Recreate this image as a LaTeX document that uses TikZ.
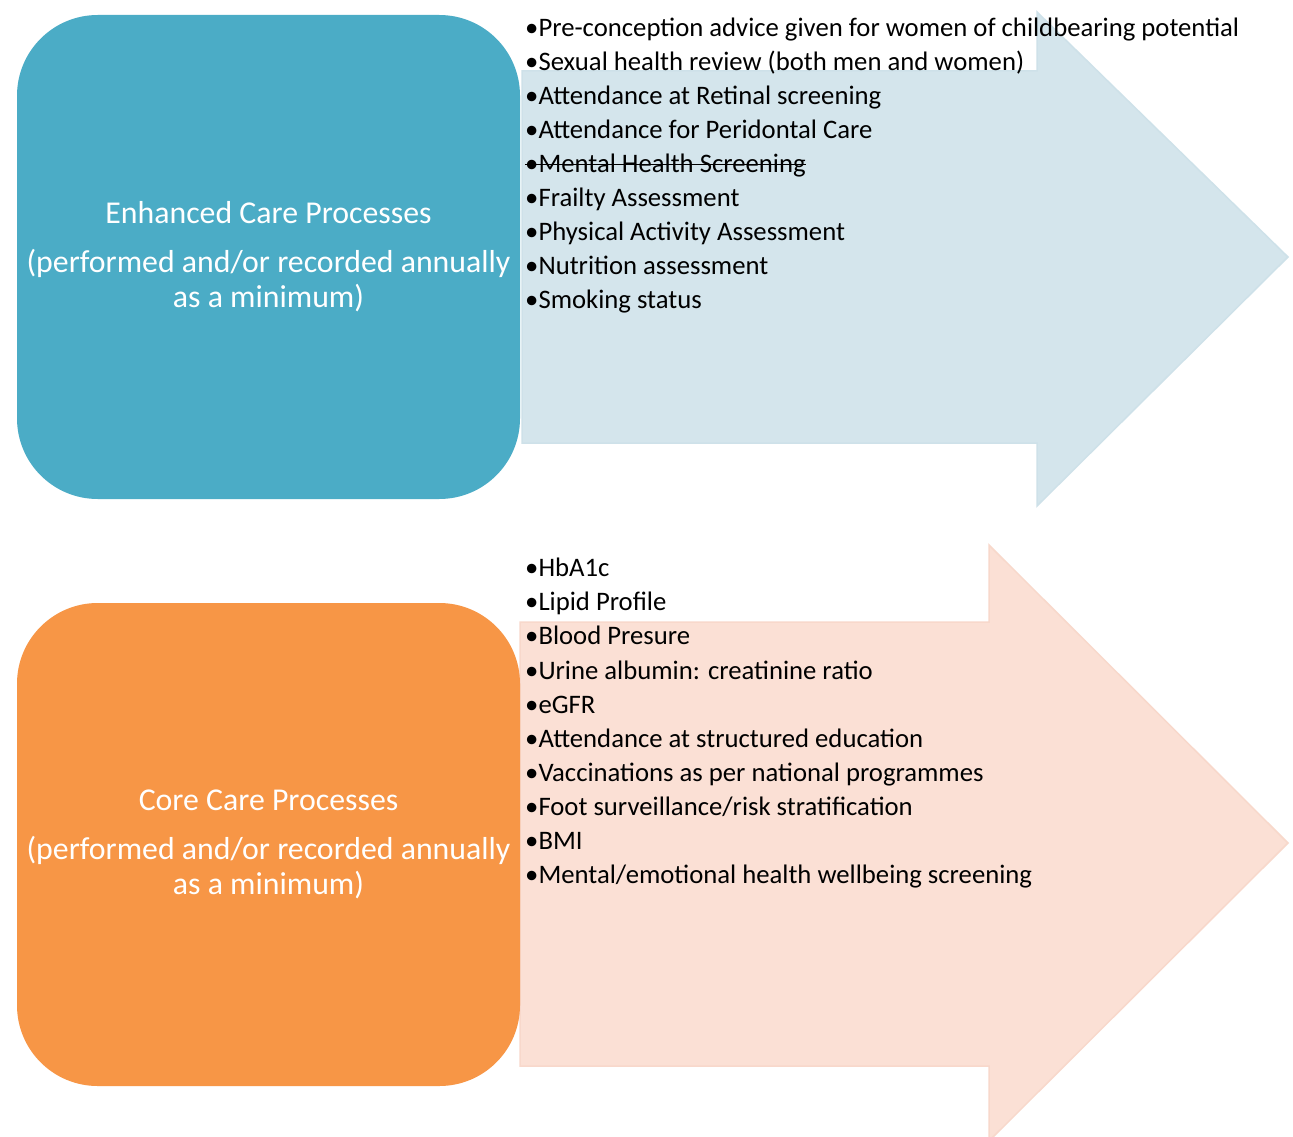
\documentclass[tikz,border=0pt]{standalone}
\usepackage{fontspec}
\setmainfont{Carlito}
\definecolor{enhblue}{RGB}{75,172,198}
\definecolor{coreorange}{RGB}{247,150,70}
\definecolor{arrowblue}{RGB}{212,229,236}
\definecolor{arrowblueedge}{RGB}{206,225,233}
\definecolor{arrowpeach}{RGB}{251,224,213}
\definecolor{arrowpeachedge}{RGB}{248,216,203}
\begin{document}
\begin{tikzpicture}[x=1pt,y=-1pt,
  procbox/.style={rounded corners=80.7pt},
  titletext/.style={anchor=base,inner sep=0pt,text=white,font=\fontsize{31.8}{36}\selectfont},
  itemtext/.style={anchor=base west,inner sep=0pt,text=black,font=\fontsize{26.7}{32}\selectfont}]
\useasboundingbox (0,0) rectangle (1293,1137);
\fill[white] (0,0) rectangle (1293,1137);
% arrows
\filldraw[fill=arrowblue,draw=arrowblueedge,line width=1.5pt,line join=miter]
  (522,71) -- (1037,71) -- (1037,12) -- (1288,257) -- (1037,506) -- (1037,443) -- (522,443) -- cycle;
\filldraw[fill=arrowpeach,draw=arrowpeachedge,line width=1.5pt,line join=miter]
  (520,622) -- (989,622) -- (989,545) -- (1288,843) -- (989,1141) -- (989,1066) -- (520,1066) -- cycle;
% boxes
\fill[enhblue,procbox] (17,15) rectangle (520,499);
\fill[coreorange,procbox] (17,603) rectangle (520,1086);
% box titles
\node[titletext] (t1a) at (268.5,223) {Enhanced Care Processes};
\node[titletext] (t1b) at (268.5,272) {(performed and/or recorded annually};
\node[titletext] (t1c) at (268.5,307) {as a minimum)};
\node[titletext] (t2a) at (268.5,810) {Core Care Processes};
\node[titletext] (t2b) at (268.5,859) {(performed and/or recorded annually};
\node[titletext] (t2c) at (268.5,894) {as a minimum)};
% enhanced list
\node[itemtext] (e1) at (525,36.5) {•Pre-conception advice given for women of childbearing potential};
\node[itemtext] (e2) at (525,70.5) {•Sexual health review (both men and women)};
\node[itemtext] (e3) at (525,104.5) {•Attendance at Retinal screening};
\node[itemtext] (e4) at (525,138.5) {•Attendance for Peridontal Care};
\node[itemtext] (e5) at (525,172.5) {•Mental Health Screening};
\node[itemtext] (e6) at (525,206.5) {•Frailty Assessment};
\node[itemtext] (e7) at (525,240.5) {•Physical Activity Assessment};
\node[itemtext] (e8) at (525,274.5) {•Nutrition assessment};
\node[itemtext] (e9) at (525,308.5) {•Smoking status};
\draw[black,line width=1.2pt] ([yshift=8.3pt]e5.base west) -- ([yshift=8.3pt]e5.base east);
% core list
\node[itemtext] (c1) at (525,576.7) {•HbA1c};
\node[itemtext] (c2) at (525,610.8) {•Lipid Profile};
\node[itemtext] (c3) at (525,644.9) {•Blood Presure};
\node[itemtext] (c4) at (525,679.0) {•Urine albumin: creatinine ratio};
\node[itemtext] (c5) at (525,713.1) {•eGFR};
\node[itemtext] (c6) at (525,747.2) {•Attendance at structured education};
\node[itemtext] (c7) at (525,781.3) {•Vaccinations as per national programmes};
\node[itemtext] (c8) at (525,815.4) {•Foot surveillance/risk stratification};
\node[itemtext] (c9) at (525,849.5) {•BMI};
\node[itemtext] (c10) at (525,883.6) {•Mental/emotional health wellbeing screening};
\end{tikzpicture}
\end{document}
